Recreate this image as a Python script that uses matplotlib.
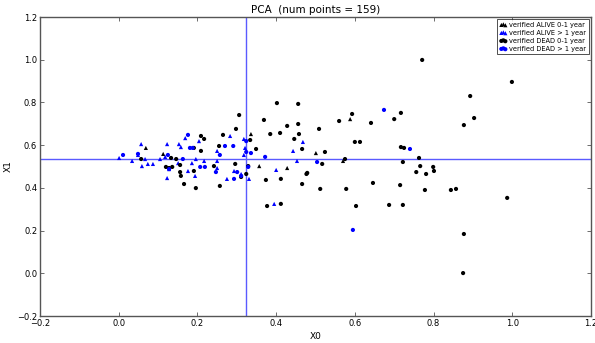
import matplotlib
matplotlib.use("Agg")
import matplotlib.pyplot as plt
import numpy as np

# verified ALIVE 0-1 year (black triangles)
alive01_x = [0.069, 0.113, 0.336, 0.588, 0.501, 0.570, 0.357, 0.428]
alive01_y = [0.587, 0.559, 0.652, 0.722, 0.563, 0.526, 0.502, 0.493]

# verified ALIVE > 1 year (blue triangles)
alive1_x = [0.001, 0.034, 0.057, 0.049, 0.067, 0.059, 0.074, 0.087, 0.105, 0.123,
            0.118, 0.151, 0.128, 0.176, 0.123, 0.153, 0.158, 0.169, 0.204, 0.196,
            0.186, 0.217, 0.194, 0.250, 0.283, 0.250, 0.250, 0.275, 0.293, 0.311,
            0.318, 0.321, 0.318, 0.331, 0.468, 0.443, 0.453, 0.400, 0.395]
alive1_y = [0.540, 0.526, 0.605, 0.554, 0.535, 0.502, 0.512, 0.512, 0.535, 0.605,
            0.545, 0.516, 0.488, 0.479, 0.446, 0.605, 0.591, 0.633, 0.619, 0.535,
            0.516, 0.526, 0.456, 0.573, 0.643, 0.526, 0.493, 0.442, 0.479, 0.465,
            0.629, 0.587, 0.554, 0.442, 0.615, 0.573, 0.526, 0.484, 0.325]

# verified DEAD 0-1 year (black circles)
dead01_x = [0.057, 0.133, 0.146, 0.120, 0.128, 0.136, 0.156, 0.156, 0.158, 0.166,
            0.196, 0.191, 0.209, 0.217, 0.209, 0.191, 0.257, 0.255, 0.265, 0.298,
            0.242, 0.296, 0.311, 0.324, 0.306, 0.402, 0.456, 0.369, 0.428, 0.456,
            0.509, 0.560, 0.593, 0.385, 0.410, 0.458, 0.446, 0.334, 0.349, 0.466,
            0.524, 0.600, 0.613, 0.575, 0.517, 0.329, 0.479, 0.477, 0.374, 0.412,
            0.466, 0.512, 0.578, 0.377, 0.412, 0.603, 0.893, 0.717, 0.700, 0.641,
            0.903, 0.877, 0.717, 0.725, 0.763, 0.722, 0.766, 0.799, 0.801, 0.756,
            0.781, 0.646, 0.715, 0.778, 0.844, 0.857, 0.987, 0.687, 0.722, 0.999,
            0.771, 0.877, 0.875]
dead01_y = [0.535, 0.540, 0.535, 0.498, 0.493, 0.498, 0.507, 0.474, 0.456, 0.418,
            0.399, 0.587, 0.643, 0.629, 0.573, 0.479, 0.409, 0.596, 0.648, 0.676,
            0.502, 0.512, 0.451, 0.465, 0.741, 0.797, 0.793, 0.718, 0.690, 0.699,
            0.676, 0.713, 0.746, 0.652, 0.657, 0.652, 0.629, 0.624, 0.582, 0.582,
            0.568, 0.615, 0.615, 0.535, 0.512, 0.502, 0.470, 0.465, 0.437, 0.442,
            0.418, 0.395, 0.395, 0.315, 0.325, 0.315, 0.830, 0.751, 0.722, 0.704,
            0.727, 0.694, 0.591, 0.587, 0.540, 0.521, 0.502, 0.498, 0.479, 0.474,
            0.465, 0.423, 0.413, 0.390, 0.390, 0.395, 0.353, 0.320, 0.320, 0.896,
            0.999, 0.184, 0.001]

# verified DEAD > 1 year (blue circles)
dead1_x = [0.011, 0.049, 0.125, 0.163, 0.128, 0.176, 0.181, 0.188, 0.207, 0.219,
           0.257, 0.270, 0.291, 0.247, 0.293, 0.301, 0.324, 0.324, 0.336, 0.329,
           0.311, 0.372, 0.504, 0.674, 0.740, 0.595]
dead1_y = [0.554, 0.559, 0.554, 0.535, 0.488, 0.648, 0.587, 0.587, 0.498, 0.498,
           0.554, 0.596, 0.596, 0.474, 0.442, 0.474, 0.619, 0.568, 0.563, 0.498,
           0.456, 0.545, 0.521, 0.765, 0.582, 0.203]

mean_x0 = 0.323
mean_x1 = 0.535
num_points = 159

plt.rcParams['font.family'] = ['DejaVu Sans']
fig = plt.figure(figsize=(5.95, 3.43), dpi=100)
ax = fig.add_axes([0.0672, 0.0787, 0.9261, 0.8717])

ax.scatter(alive01_x, alive01_y, marker='^', s=9, c='black', edgecolors='none',
           label='verified ALIVE 0-1 year', zorder=3)
ax.scatter(alive1_x, alive1_y, marker='^', s=9, c='blue', edgecolors='none',
           label='verified ALIVE > 1 year', zorder=3)
ax.scatter(dead01_x, dead01_y, marker='o', s=9, c='black', edgecolors='none',
           label='verified DEAD 0-1 year', zorder=3)
ax.scatter(dead1_x, dead1_y, marker='o', s=9, c='blue', edgecolors='none',
           label='verified DEAD > 1 year', zorder=3)

ax.axvline(mean_x0, color='#5a5aff', lw=1.0, zorder=2)
ax.axhline(mean_x1, color='#5a5aff', lw=1.0, zorder=2)

ax.set_xlim(-0.2, 1.2)
ax.set_ylim(-0.2, 1.2)
ax.set_xticks(np.arange(-0.2, 1.21, 0.2))
ax.set_yticks(np.arange(-0.2, 1.21, 0.2))
ax.set_xticklabels(['\u22120.2', '0.0', '0.2', '0.4', '0.6', '0.8', '1.0', '1.2'])
ax.set_yticklabels(['\u22120.2', '0.0', '0.2', '0.4', '0.6', '0.8', '1.0', '1.2'])
ax.tick_params(direction='in', top=True, right=True, labelsize=6, length=3,
               width=0.6, color='#555555', pad=2)
for sp in ax.spines.values():
    sp.set_color('#555555')
    sp.set_linewidth(1.0)

ax.set_xlabel('X0', fontsize=6.5, labelpad=3)
ax.set_ylabel('X1', fontsize=6.5, labelpad=3)
ax.set_title('PCA  (num points = %d)' % num_points, fontsize=7.5, pad=3)

leg = ax.legend(loc='upper right', scatterpoints=3, fontsize=4.8, frameon=True,
                fancybox=False, handletextpad=0.3, borderpad=0.4,
                labelspacing=0.3, handlelength=1.2, borderaxespad=0.3)
leg.get_frame().set_edgecolor('black')
leg.get_frame().set_linewidth(0.6)

fig.savefig('out.png', dpi=100, facecolor='white')
